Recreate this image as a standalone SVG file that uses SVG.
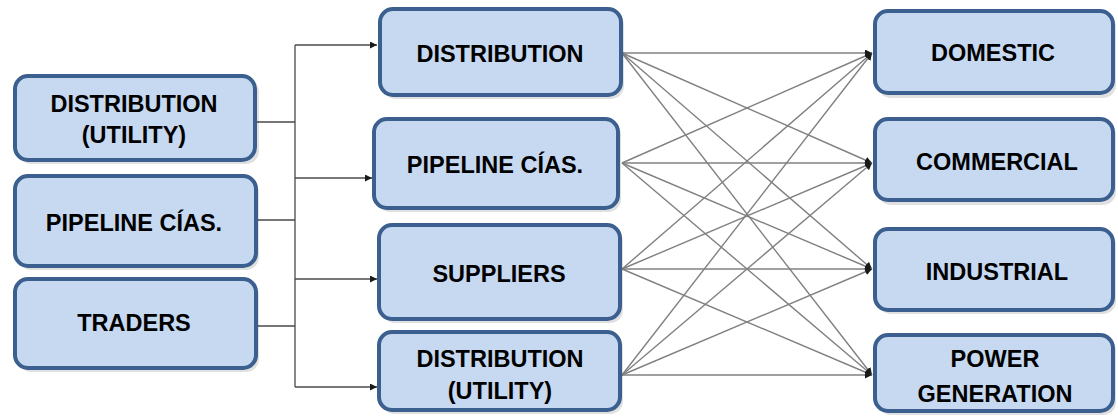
<svg xmlns="http://www.w3.org/2000/svg" width="1118" height="417" viewBox="0 0 1118 417">
  <style>
    .box { fill: #c6d9f1; stroke: #3b5f8e; stroke-width: 4; }
    .shadow { fill: #000; opacity: 0.12; }
    .label { font-family: "Liberation Sans", Arial, sans-serif; font-weight: bold; font-size: 23.5px; fill: #000; text-anchor: middle; }
    .feed { stroke: #4a4a4a; stroke-width: 1.3; fill: none; }
    .flow { stroke: #808080; stroke-width: 1.4; fill: none; }
  </style>
  <defs>
    <marker id="arrow" viewBox="0 0 10 10" refX="10" refY="5" markerWidth="7" markerHeight="7" markerUnits="userSpaceOnUse" orient="auto">
      <path d="M0,0 L10,5 L0,10 z" fill="#1a1a1a"/>
    </marker>
  </defs>

  <!-- feeder bus from the supply side into the intermediary layer -->
  <g id="connectors">
    <path class="feed" d="M257,122 H295 M257,220 H295 M257,326 H295 M295,45 V387"/>
    <path class="feed" marker-end="url(#arrow)" d="M295,45 H377"/>
    <path class="feed" marker-end="url(#arrow)" d="M295,178 H372"/>
    <path class="feed" marker-end="url(#arrow)" d="M295,279 H377"/>
    <path class="feed" marker-end="url(#arrow)" d="M295,387 H377"/>

    <!-- every intermediary feeds every end-use sector -->
    <g class="flow" marker-end="url(#arrow)">
      <path d="M622,53 L872,53"/>
      <path d="M622,53 L872,163"/>
      <path d="M622,53 L872,269"/>
      <path d="M622,53 L872,375"/>
      <path d="M622,163 L872,53"/>
      <path d="M622,163 L872,163"/>
      <path d="M622,163 L872,269"/>
      <path d="M622,163 L872,375"/>
      <path d="M622,269 L872,53"/>
      <path d="M622,269 L872,163"/>
      <path d="M622,269 L872,269"/>
      <path d="M622,269 L872,375"/>
      <path d="M622,375 L872,53"/>
      <path d="M622,375 L872,163"/>
      <path d="M622,375 L872,269"/>
      <path d="M622,375 L872,375"/>
    </g>
  </g>

  <!-- supply side -->
  <g id="src-distribution">
    <rect class="shadow" x="18" y="79" width="241" height="85" rx="13"/>
    <rect class="box" x="15" y="76" width="240" height="84" rx="13"/>
    <text class="label" x="134" y="112">DISTRIBUTION</text>
    <text class="label" x="134" y="143">(UTILITY)</text>
  </g>
  <g id="src-pipeline">
    <rect class="shadow" x="18" y="179" width="241" height="91" rx="13"/>
    <rect class="box" x="15" y="176" width="241" height="90" rx="13"/>
    <text class="label" x="134" y="231">PIPELINE CÍAS.</text>
  </g>
  <g id="src-traders">
    <rect class="shadow" x="18" y="282" width="241" height="90" rx="13"/>
    <rect class="box" x="15" y="279" width="241" height="89" rx="13"/>
    <text class="label" x="134" y="331">TRADERS</text>
  </g>

  <!-- intermediaries -->
  <g id="mid-distribution">
    <rect class="shadow" x="383" y="12" width="241" height="87" rx="13"/>
    <rect class="box" x="380" y="9" width="241" height="86" rx="13"/>
    <text class="label" x="500" y="62">DISTRIBUTION</text>
  </g>
  <g id="mid-pipeline">
    <rect class="shadow" x="377" y="122" width="244" height="90" rx="13"/>
    <rect class="box" x="374" y="119" width="244" height="89" rx="13"/>
    <text class="label" x="495" y="173">PIPELINE CÍAS.</text>
  </g>
  <g id="mid-suppliers">
    <rect class="shadow" x="382" y="228" width="241" height="95" rx="13"/>
    <rect class="box" x="379" y="225" width="241" height="94" rx="13"/>
    <text class="label" x="499" y="282">SUPPLIERS</text>
  </g>
  <g id="mid-distribution-utility">
    <rect class="shadow" x="382" y="335" width="241" height="79" rx="13"/>
    <rect class="box" x="379" y="332" width="241" height="78" rx="13"/>
    <text class="label" x="500" y="367">DISTRIBUTION</text>
    <text class="label" x="500" y="399">(UTILITY)</text>
  </g>

  <!-- end-use sectors -->
  <g id="use-domestic">
    <rect class="shadow" x="878" y="14" width="238" height="84" rx="13"/>
    <rect class="box" x="875" y="11" width="238" height="82" rx="13"/>
    <text class="label" x="993" y="61">DOMESTIC</text>
  </g>
  <g id="use-commercial">
    <rect class="shadow" x="878" y="122" width="238" height="83" rx="13"/>
    <rect class="box" x="875" y="119" width="238" height="81" rx="13"/>
    <text class="label" x="997" y="170">COMMERCIAL</text>
  </g>
  <g id="use-industrial">
    <rect class="shadow" x="878" y="232" width="238" height="82" rx="13"/>
    <rect class="box" x="875" y="229" width="238" height="81" rx="13"/>
    <text class="label" x="997" y="280">INDUSTRIAL</text>
  </g>
  <g id="use-power">
    <rect class="shadow" x="878" y="338" width="238" height="77" rx="13"/>
    <rect class="box" x="875" y="335" width="238" height="76" rx="13"/>
    <text class="label" x="995" y="367">POWER</text>
    <text class="label" x="995" y="402">GENERATION</text>
  </g>
</svg>
